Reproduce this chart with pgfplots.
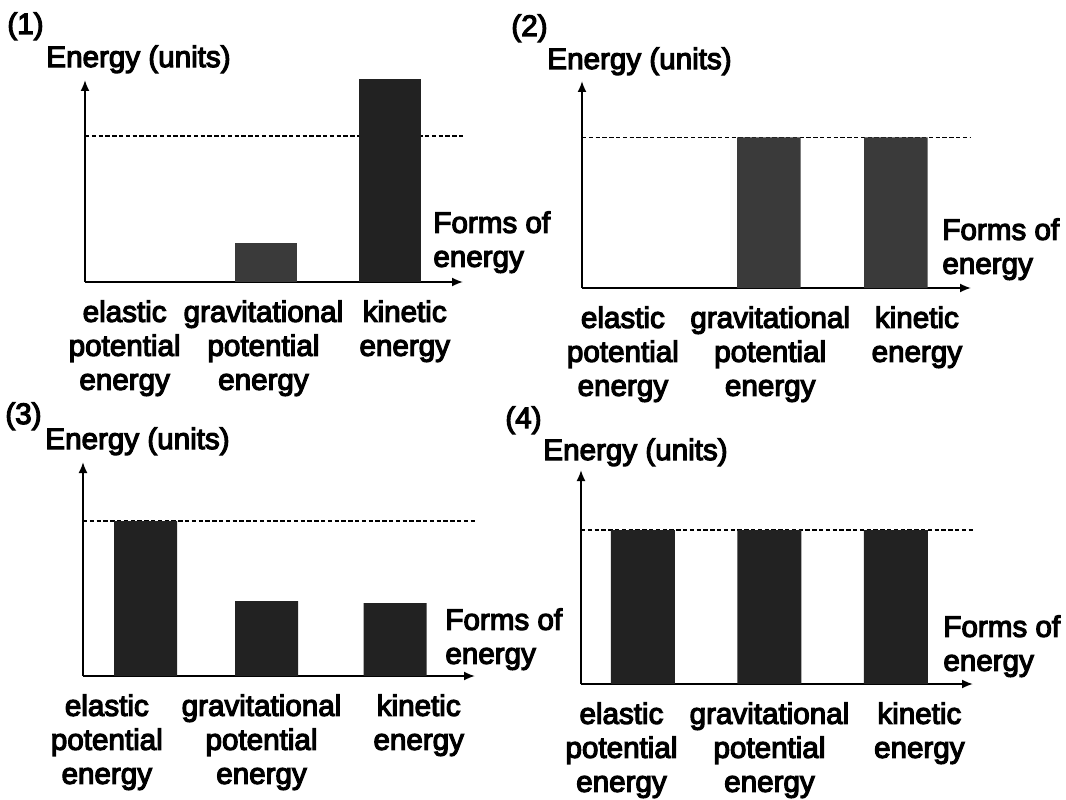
\documentclass[border=0pt]{standalone}
\usepackage{fontspec}
\setmainfont{Liberation Sans}[FakeBold=4]
\usepackage{pgfplots}
\pgfplotsset{compat=1.18}
\usetikzlibrary{arrows.meta}
\definecolor{barc}{RGB}{34,34,34}
\definecolor{hatchc}{RGB}{58,58,58}
\newcommand\lbl{\fontsize{14.8}{17}\selectfont}
\pgfplotsset{
  panel/.style={
    scale only axis, anchor=south west, clip=false,
    axis lines=left,
    axis line style={line width=0.9pt, -{Latex[length=5.5pt,width=4.5pt]}},
    ymin=0, ytick=\empty,
    major tick length=0pt,
    xticklabels={{elastic\\potential\\energy},{gravitational\\potential\\energy},{kinetic\\energy}},
    xticklabel style={align=center, anchor=north, inner sep=0pt, yshift=-9pt, font=\lbl},
    every axis title/.style={at={(axis description cs:0,1)}, anchor=base west, inner sep=0pt, font=\lbl},
    every axis y label/.style={at={(axis description cs:0,1)}, anchor=base west, inner sep=0pt, font=\lbl},
    every axis x label/.style={at={(axis description cs:1,0)}, anchor=north west, align=left, inner sep=0pt, font=\lbl},
    title={}, ylabel={Energy (units)}, xlabel={Forms of\\energy},
  },
  level/.style={black, line width=0.7pt, dash pattern=on 2.2pt off 1.2pt, mark=none},
  ebar/.style={ybar, bar shift=0pt, draw=none, fill=barc},
}
\begin{document}
\begin{tikzpicture}
\path[use as bounding box] (0,0) rectangle (533pt,399.5pt);
% Panel 1
\begin{axis}[panel, at={(42.5pt,258.5pt)}, width=189pt, height=101pt,
  xmin=-0.46, xmax=2.59, ymax=13.84, xtick={-0.14,0.98,2.12},
  title={(1)}, title style={xshift=-39pt, yshift=23pt},
  ylabel style={xshift=-19.5pt, yshift=6.5pt},
  xlabel style={xshift=-15pt, yshift=35.5pt}]
\addplot[level] coordinates {(-0.46,10) (2.59,10)};
\addplot[ebar, bar width=0.5, fill=hatchc] coordinates {(1,2.67)};
\addplot[ebar, bar width=0.5] coordinates {(2,13.9)};
\end{axis}
% Panel 2
\begin{axis}[panel, at={(291pt,255.5pt)}, width=194.5pt, height=103.5pt,
  xmin=-0.472, xmax=2.591, ymax=13.75, xtick={-0.15,1.01,2.165},
  title={(2)}, title style={xshift=-35.5pt, yshift=22.5pt},
  ylabel style={xshift=-17.5pt, yshift=6pt},
  xlabel style={xshift=-14.5pt, yshift=35pt}]
\addplot[level] coordinates {(-0.472,10) (2.591,10)};
\addplot[ebar, bar width=0.5, fill=hatchc] coordinates {(1,10) (2,10)};
\end{axis}
% Panel 3
\begin{axis}[panel, at={(41.5pt,61.5pt)}, width=196pt, height=107pt,
  xmin=-0.501, xmax=2.641, ymax=13.81, xtick={-0.31,0.93,2.19},
  title={(3)}, title style={xshift=-39pt, yshift=19pt},
  ylabel style={xshift=-19pt, yshift=6.5pt},
  xlabel style={xshift=-15pt, yshift=34pt}]
\addplot[level] coordinates {(-0.501,10) (2.641,10)};
\addplot[ebar, bar width=0.505] coordinates {(0,10) (0.97,4.84) (2,4.71)};
\end{axis}
% Panel 4
\begin{axis}[panel, at={(290.5pt,57.5pt)}, width=196pt, height=107pt,
  xmin=-0.49, xmax=2.609, ymax=13.9, xtick={-0.17,1.0,2.185},
  title={(4)}, title style={xshift=-38pt, yshift=21pt},
  ylabel style={xshift=-19pt, yshift=5pt},
  xlabel style={xshift=-15pt, yshift=34.5pt}]
\addplot[level] coordinates {(-0.49,10) (2.609,10)};
\addplot[ebar, bar width=0.506] coordinates {(0,10) (1,10) (2,10)};
\end{axis}
\end{tikzpicture}
\end{document}
